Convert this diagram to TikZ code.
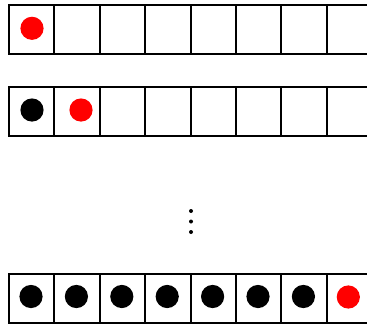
\documentclass[tikz,border=0pt]{standalone}
\begin{document}
\begin{tikzpicture}[x=1pt,y=-1pt,line width=2pt]

\clip (0,0) rectangle (367,324);

% three rows of cells
\foreach \t in {5,87,274}{
\draw (9,\t) rectangle (372.2,\t+49);
\foreach \i in {1,...,7}{
\draw (9+45.4*\i,\t)--(9+45.4*\i,\t+49);
}
}

% first row
\fill[red] (32,28.3) circle (11.6pt);

% second row
\fill (32,110) circle (11.6pt);
\fill[red] (81,110) circle (11.6pt);

% vertical dots
\foreach \y in {211,221.5,232}{
\fill (191,\y) circle (2pt);
}

% last row
\foreach \i in {0,...,6}{
\fill (31+45.4*\i,296.5) circle (11.6pt);
}
\fill[red] (348.3,297) circle (11.6pt);

\end{tikzpicture}
\end{document}
